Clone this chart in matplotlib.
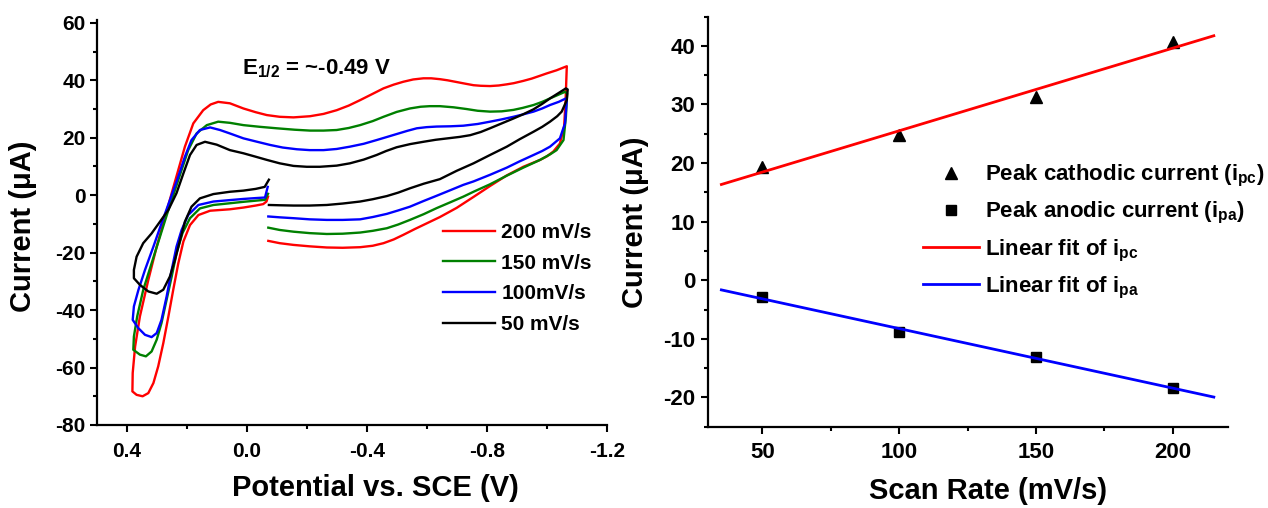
import numpy as np
import matplotlib
matplotlib.use("Agg")
import matplotlib.pyplot as plt
from matplotlib.ticker import MultipleLocator, FormatStrFormatter

plt.rcParams['font.family'] = ['Liberation Sans', 'DejaVu Sans']
plt.rcParams['font.weight'] = 'bold'
plt.rcParams['axes.unicode_minus'] = False
plt.rcParams['mathtext.fontset'] = 'custom'
plt.rcParams['mathtext.rm'] = 'Liberation Sans:bold'
plt.rcParams['mathtext.it'] = 'Liberation Sans:bold'
plt.rcParams['mathtext.bf'] = 'Liberation Sans:bold'

# ---- cyclic voltammograms (potential in V vs. SCE, current in uA) ----
scan_labels = ['200 mV/s', '150 mV/s', '100mV/s', '50 mV/s']
scan_colors = ['#ff0000', '#008000', '#0000ff', '#000000']

cv200_E = [-0.072, -0.110, -0.156, -0.210, -0.267, -0.320, -0.378, -0.420, -0.456, -0.490, -0.522,
           -0.560, -0.600, -0.644, -0.700, -0.756, -0.811, -0.867, -0.922, -0.978, -1.000, -1.022,
           -1.044, -1.058, -1.063, -1.067,
           -1.033, -1.000, -0.978, -0.950, -0.922, -0.890, -0.867, -0.840, -0.811, -0.780, -0.756,
           -0.730, -0.700, -0.670, -0.644, -0.615, -0.589, -0.555, -0.522, -0.490, -0.456, -0.420,
           -0.378, -0.340, -0.300, -0.256, -0.211, -0.156, -0.110, -0.067, -0.030, 0.011, 0.056,
           0.095, 0.120, 0.145, 0.178, 0.206, 0.228, 0.250, 0.272, 0.300, 0.328, 0.356, 0.372,
           0.380, 0.381,
           0.367, 0.347, 0.328, 0.311, 0.295, 0.278, 0.261, 0.245, 0.228, 0.211, 0.189, 0.161,
           0.122, 0.056, 0.011, -0.030, -0.055, -0.066, -0.071]
cv200_I = [-15.9, -16.7, -17.3, -17.8, -18.2, -18.3, -18.1, -17.6, -16.7, -15.4, -13.8,
           -11.8, -9.8, -7.6, -4.4, -0.6, 3.2, 6.9, 9.9, 12.3, 13.5, 15.2,
           18.0, 23.8, 33.1, 44.9,
           43.5, 42.4, 41.6, 40.6, 39.8, 39.0, 38.6, 38.2, 38.0, 38.1, 38.3,
           38.8, 39.4, 40.0, 40.4, 40.7, 40.7, 40.3, 39.5, 38.5, 37.2, 35.3,
           33.1, 31.2, 29.6, 28.3, 27.5, 27.1, 27.3, 27.9, 28.9, 30.2, 32.0,
           32.5, 31.6, 29.6, 25.0, 16.9, 8.8, 0.7, -7.5, -17.9, -29.5, -42.2, -52.7,
           -61.9, -68.3,
           -69.5, -70.0, -68.9, -65.4, -59.6, -51.5, -42.2, -33.0, -23.7, -16.1, -10.4, -6.9,
           -5.4, -4.9, -4.3, -3.6, -3.1, -2.2, -0.5]

cv150_E = [-0.072, -0.110, -0.156, -0.210, -0.267, -0.320, -0.378, -0.420, -0.467, -0.505, -0.544,
           -0.590, -0.633, -0.680, -0.722, -0.756, -0.811, -0.867, -0.922, -0.978, -1.011, -1.033,
           -1.056, -1.064, -1.068,
           -1.061, -1.035, -1.011, -0.985, -0.956, -0.920, -0.889, -0.850, -0.811, -0.770, -0.733,
           -0.690, -0.644, -0.610, -0.580, -0.544, -0.500, -0.456, -0.420, -0.378, -0.340, -0.300,
           -0.256, -0.211, -0.160, -0.100, -0.045, 0.011, 0.056, 0.095, 0.133, 0.167, 0.195, 0.217,
           0.239, 0.261, 0.289, 0.317, 0.345, 0.365, 0.376, 0.378,
           0.356, 0.336, 0.317, 0.300, 0.284, 0.267, 0.250, 0.234, 0.214, 0.189, 0.156, 0.111,
           0.056, 0.011, -0.030, -0.061, -0.071]
cv150_I = [-11.3, -12.1, -12.7, -13.2, -13.5, -13.4, -13.0, -12.4, -11.5, -10.2, -8.6,
           -6.6, -4.5, -2.4, -0.5, 1.2, 3.8, 6.8, 9.6, 12.3, 14.2, 15.7,
           19.2, 27.3, 35.4,
           36.0, 34.8, 33.7, 32.5, 31.4, 30.4, 29.7, 29.2, 29.1, 29.4, 30.0,
           30.6, 31.0, 31.0, 30.8, 30.2, 29.0, 27.3, 25.8, 24.4, 23.4, 22.7,
           22.5, 22.5, 22.8, 23.3, 23.8, 24.4, 25.2, 25.6, 24.4, 21.5, 15.7, 8.8,
           1.8, -5.1, -14.4, -23.7, -33.0, -42.2, -49.2, -53.8,
           -55.5, -56.1, -54.4, -50.3, -44.5, -36.4, -28.3, -20.2, -13.2, -8.0, -4.6, -3.4,
           -2.8, -2.3, -1.9, -1.6, 0.5]

cv100_E = [-0.072, -0.110, -0.156, -0.210, -0.267, -0.320, -0.378, -0.420, -0.467, -0.505, -0.544,
           -0.590, -0.633, -0.680, -0.722, -0.756, -0.811, -0.867, -0.910, -0.956, -0.985, -1.011,
           -1.044, -1.061, -1.067,
           -1.064, -1.040, -1.011, -0.985, -0.956, -0.920, -0.889, -0.850, -0.811, -0.770, -0.722,
           -0.680, -0.633, -0.600, -0.567, -0.535, -0.500, -0.465, -0.433, -0.390, -0.344, -0.300,
           -0.256, -0.210, -0.167, -0.120, -0.078, -0.035, 0.011, 0.056, 0.089, 0.122, 0.156,
           0.184, 0.206, 0.228, 0.256, 0.284, 0.311, 0.339, 0.361, 0.376, 0.380,
           0.361, 0.339, 0.317, 0.300, 0.284, 0.267, 0.250, 0.234, 0.217, 0.195, 0.161, 0.111,
           0.056, 0.011, -0.030, -0.061, -0.070]
cv100_I = [-7.4, -7.7, -8.0, -8.4, -8.6, -8.6, -8.4, -7.6, -6.5, -5.3, -4.0,
           -2.0, -0.2, 1.8, 3.6, 4.8, 7.1, 9.6, 11.8, 14.0, 15.4, 16.9,
           19.8, 25.0, 33.1,
           33.7, 32.5, 31.4, 30.2, 29.1, 28.1, 27.3, 26.4, 25.6, 24.8, 24.2,
           24.0, 23.9, 23.7, 23.3, 22.4, 21.3, 20.2, 19.2, 17.9, 16.9, 16.1,
           15.7, 15.7, 16.0, 16.6, 17.5, 18.6, 19.8, 21.5, 22.7, 23.6, 22.7,
           19.2, 13.4, 6.5, -1.7, -9.8, -17.9, -26.0, -33.0, -38.7, -43.4,
           -46.3, -48.6, -49.4, -48.0, -43.4, -35.3, -26.0, -17.9, -12.1, -6.9, -3.4, -2.2,
           -1.7, -1.3, -1.0, -0.8, 2.9]

cv50_E = [-0.074, -0.110, -0.156, -0.210, -0.267, -0.320, -0.378, -0.420, -0.467, -0.505, -0.544,
          -0.590, -0.644, -0.700, -0.756, -0.811, -0.867, -0.910, -0.956, -0.985, -1.011, -1.035,
          -1.050, -1.067, -1.070,
          -1.064, -1.040, -1.011, -0.985, -0.956, -0.920, -0.889, -0.850, -0.811, -0.780, -0.745,
          -0.710, -0.678, -0.630, -0.589, -0.545, -0.500, -0.465, -0.433, -0.390, -0.344, -0.300,
          -0.244, -0.200, -0.156, -0.110, -0.067, -0.030, 0.011, 0.056, 0.100, 0.139, 0.167,
          0.189, 0.211, 0.234, 0.261, 0.289, 0.317, 0.345, 0.367, 0.376, 0.376,
          0.356, 0.328, 0.300, 0.278, 0.256, 0.239, 0.222, 0.206, 0.184, 0.156, 0.111,
          0.056, 0.011, -0.030, -0.060, -0.074]
cv50_I = [-3.4, -3.5, -3.6, -3.6, -3.4, -2.9, -2.2, -1.4, -0.3, 0.9, 2.4,
          4.0, 5.6, 8.5, 11.1, 14.0, 16.9, 19.5, 22.1, 23.8, 25.6, 27.5,
          29.1, 33.1, 36.8,
          37.2, 35.6, 33.7, 31.8, 29.9, 28.1, 26.7, 25.0, 23.3, 22.0, 20.9,
          20.3, 19.9, 19.3, 18.6, 17.8, 16.7, 15.4, 14.0, 12.4, 11.1, 10.3,
          9.9, 9.9, 10.2, 11.1, 12.3, 13.4, 14.6, 15.7, 17.6, 18.6, 17.5,
          14.0, 7.6, 0.7, -5.1, -9.2, -13.3, -16.7, -21.4, -26.0, -28.9,
          -31.2, -33.5, -34.3, -32.9, -28.3, -22.5, -15.6, -9.2, -4.0, -1.1, 0.4,
          1.2, 1.6, 2.2, 2.9, 5.4]

cv_E = [cv200_E, cv150_E, cv100_E, cv50_E]
cv_I = [cv200_I, cv150_I, cv100_I, cv50_I]

# ---- peak currents vs. scan rate ----
scan_rate = [50, 100, 150, 200]
ipc = [19.4, 24.7, 31.3, 40.7]
ipa = [-2.9, -8.8, -13.1, -18.4]
fit_range = [35, 215]

W, H = 1268, 508
fig = plt.figure(figsize=(W / 100, H / 100), dpi=100)

def px_axes(x0, y0, x1, y1):
    return fig.add_axes([x0 / W, 1 - y1 / H, (x1 - x0) / W, (y1 - y0) / H])

def style_axes(ax, ticksize):
    for side in ('top', 'right'):
        ax.spines[side].set_visible(False)
    for side in ('left', 'bottom'):
        ax.spines[side].set_linewidth(1.6)
    ax.tick_params(which='major', direction='out', length=5, width=1.5, labelsize=ticksize)
    ax.tick_params(which='minor', direction='out', length=3, width=1.5)
    for lab in ax.get_xticklabels() + ax.get_yticklabels():
        lab.set_fontweight('bold')

# left panel: CVs
ax1 = px_axes(96.7, 20, 606.7, 425)
for E, I, c, lab in zip(cv_E, cv_I, scan_colors, scan_labels):
    ax1.plot(E, I, color=c, lw=1.7, label=lab, solid_joinstyle='round')
ax1.set_xlim(0.5, -1.2)
ax1.set_ylim(-80, 61)
ax1.xaxis.set_major_locator(MultipleLocator(0.4))
ax1.xaxis.set_minor_locator(MultipleLocator(0.2))
ax1.yaxis.set_major_locator(MultipleLocator(20))
ax1.yaxis.set_minor_locator(MultipleLocator(10))
ax1.xaxis.set_major_formatter(FormatStrFormatter('%.1f'))
style_axes(ax1, 15)
ax1.tick_params(axis='x', which='major', pad=7)
ax1.tick_params(axis='y', which='major', pad=3)
ax1.set_xlabel('Potential vs. SCE (V)', fontsize=21, fontweight='bold')
ax1.set_ylabel('Current (\u03bcA)', fontsize=21, fontweight='bold')
ax1.xaxis.set_label_coords(0.547, -0.122)
ax1.yaxis.set_label_coords(-0.118, 0.49)
fig.text(242 / W, 1 - 74 / H, r'E$_{1/2}$ = ~-0.49 V', fontsize=16, fontweight='bold',
         ha='left', va='baseline')
ax1.legend(loc='upper left', bbox_to_anchor=(443 / W, 1 - 223 / H), bbox_transform=fig.transFigure,
           frameon=False, handlelength=2.5, handletextpad=0.3,
           labelspacing=0.56, borderpad=0, borderaxespad=0, prop={'weight': 'bold', 'size': 15})

# right panel: peak current vs. scan rate
ax2 = px_axes(707.7, 16.5, 1227.5, 426.7)
ax2.plot(scan_rate, ipc, linestyle='none', marker='^', ms=8, color='black',
         label=r'Peak cathodic current (i$_{pc}$)')
ax2.plot(scan_rate, ipa, linestyle='none', marker='s', ms=7, color='black',
         label=r'Peak anodic current (i$_{pa}$)')
xf = np.array(fit_range, dtype=float)
pc_fit = np.polyfit(scan_rate, ipc, 1)
pa_fit = np.polyfit(scan_rate, ipa, 1)
ax2.plot(xf, np.polyval(pc_fit, xf), color='#ff0000', lw=2, label=r'Linear fit of i$_{pc}$')
ax2.plot(xf, np.polyval(pa_fit, xf), color='#0000ff', lw=2, label=r'Linear fit of i$_{pa}$')
ax2.set_xlim(30, 220)
ax2.set_ylim(-25, 45)
ax2.xaxis.set_major_locator(MultipleLocator(50))
ax2.xaxis.set_minor_locator(MultipleLocator(25))
ax2.yaxis.set_major_locator(MultipleLocator(10))
ax2.yaxis.set_minor_locator(MultipleLocator(5))
style_axes(ax2, 16)
ax2.tick_params(axis='x', which='major', pad=6)
ax2.tick_params(axis='y', which='major', pad=4)
ax2.set_xlabel('Scan Rate (mV/s)', fontsize=21, fontweight='bold')
ax2.set_ylabel('Current (\u03bcA)', fontsize=21, fontweight='bold')
ax2.xaxis.set_label_coords(0.539, -0.122)
ax2.yaxis.set_label_coords(-0.112, 0.499)
ax2.legend(loc='upper left', bbox_to_anchor=(923 / W, 1 - 163 / H), bbox_transform=fig.transFigure,
           frameon=False, handlelength=2.5, handletextpad=0.3, numpoints=1,
           labelspacing=0.5, borderpad=0, borderaxespad=0, prop={'weight': 'bold', 'size': 16})

fig.savefig('out.png', dpi=100)
